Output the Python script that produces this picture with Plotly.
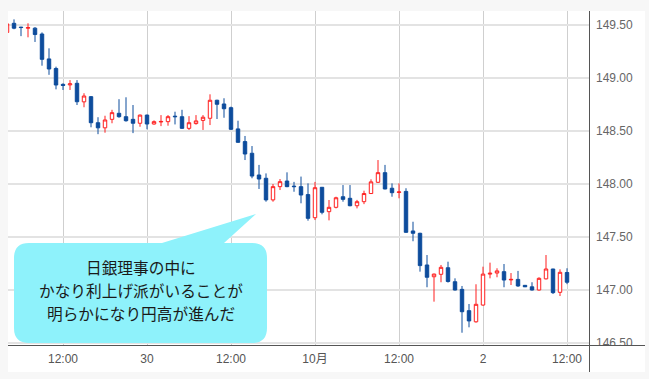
import plotly.graph_objects as go
import pandas as pd

# ---- data (hourly USD/JPY candles, 2025-09-29 04:00 .. 2025-10-02 12:00) ----
start_time = "2025-09-29 04:00"
n_candles = 81
open_ = [149.43, 149.516, 149.48, 149.47, 149.47, 149.415, 149.18, 149.09, 148.94, 148.935,
         148.95, 148.775, 148.824, 148.578, 148.53, 148.61, 148.667, 148.635, 148.61, 148.573,
         148.65, 148.566, 148.585, 148.588, 148.64, 148.635, 148.525, 148.57, 148.60, 148.62,
         148.79, 148.755, 148.72, 148.52, 148.40, 148.29, 148.085, 148.054, 147.85, 147.975,
         148.028, 147.98, 147.975, 147.90, 147.682, 147.969, 147.739, 147.78, 147.88, 147.865,
         147.795, 147.833, 147.91, 148.016, 148.107, 147.96, 147.92, 147.93, 147.557, 147.535,
         147.236, 147.125, 147.148, 147.21, 147.078, 147.006, 146.805, 146.70, 146.858, 147.15,
         147.16, 147.173, 147.095, 147.10, 147.044, 147.03, 147.0, 147.105, 147.198, 146.978,
         147.165]
high = [149.52, 149.553, 149.482, 149.516, 149.48, 149.43, 149.28, 149.107, 148.95, 148.98,
        148.98, 148.856, 148.83, 148.63, 148.644, 148.70, 148.80, 148.818, 148.745, 148.655,
        148.655, 148.60, 148.65, 148.65, 148.682, 148.70, 148.64, 148.65, 148.65, 148.846,
        148.795, 148.809, 148.73, 148.597, 148.453, 148.358, 148.18, 148.10, 148.0, 148.047,
        148.11, 148.02, 148.07, 148.006, 148.02, 147.97, 147.849, 147.88, 147.99, 147.99,
        147.85, 147.937, 148.044, 148.226, 148.18, 148.006, 148.006, 147.96, 147.644, 147.54,
        147.33, 147.155, 147.236, 147.267, 147.11, 147.038, 146.868, 147.054, 147.22, 147.258,
        147.205, 147.245, 147.16, 147.18, 147.046, 147.073, 147.12, 147.33, 147.2, 147.195,
        147.205]
low = [149.42, 149.46, 149.395, 149.384, 149.34, 149.116, 149.03, 148.893, 148.887, 148.887,
       148.745, 148.724, 148.535, 148.47, 148.484, 148.573, 148.625, 148.588, 148.48, 148.54,
       148.516, 148.56, 148.546, 148.55, 148.562, 148.52, 148.51, 148.56, 148.51, 148.556,
       148.613, 148.625, 148.51, 148.39, 148.226, 148.054, 147.953, 147.833, 147.833, 147.943,
       147.97, 147.927, 147.818, 147.654, 147.66, 147.714, 147.657, 147.77, 147.833, 147.79,
       147.77, 147.81, 147.906, 148.01, 147.95, 147.88, 147.865, 147.54, 147.46, 147.173,
       147.026, 146.89, 147.073, 147.07, 146.995, 146.597, 146.648, 146.692, 146.852, 147.11,
       147.12, 147.026, 147.047, 147.03, 147.028, 146.995, 146.995, 147.10, 146.962, 146.943,
       147.055]
close = [149.51, 149.47, 149.476, 149.475, 149.41, 149.176, 149.085, 148.934, 148.93, 148.945,
         148.776, 148.83, 148.578, 148.53, 148.604, 148.673, 148.635, 148.597, 148.573, 148.65,
         148.566, 148.588, 148.59, 148.635, 148.635, 148.525, 148.578, 148.595, 148.63, 148.79,
         148.752, 148.71, 148.516, 148.393, 148.283, 148.075, 148.047, 147.85, 147.975, 148.022,
         147.975, 147.975, 147.896, 147.676, 147.965, 147.733, 147.78, 147.87, 147.855, 147.795,
         147.833, 147.91, 148.02, 148.107, 147.953, 147.918, 147.925, 147.544, 147.535, 147.23,
         147.12, 147.15, 147.214, 147.08, 147.0, 146.795, 146.708, 146.865, 147.15, 147.158,
         147.18, 147.094, 147.10, 147.038, 147.03, 147.0, 147.11, 147.198, 146.975, 147.167,
         147.073]

x_tick_vals = ["2025-09-29 12:00", "2025-09-30 00:00", "2025-09-30 12:00", "2025-10-01 00:00",
               "2025-10-01 12:00", "2025-10-02 00:00", "2025-10-02 12:00"]
x_tick_text = ["12:00", "30", "12:00", "10月", "12:00", "2", "12:00"]
y_tick_vals = [146.5, 147.0, 147.5, 148.0, 148.5, 149.0, 149.5]
y_tick_text = ["146.50", "147.00", "147.50", "148.00", "148.50", "149.00", "149.50"]
callout_lines = ["日銀理事の中に", "かなり利上げ派がいることが", "明らかになり円高が進んだ"]

times = pd.date_range(start_time, periods=n_candles, freq="h")

# ---- geometry ----
W, H = 649, 379
L, R, T, B = 8, 589, 11, 346
BLUE = "#0d4c9c"
RED = "#ff1f1f"

def px(x):
    return (x - L) / (R - L)

def py(y):
    return (B - y) / (B - T)

fig = go.Figure()
fig.add_trace(go.Candlestick(
    x=times, open=open_, high=high, low=low, close=close,
    increasing=dict(line=dict(color=RED, width=1), fillcolor="white"),
    decreasing=dict(line=dict(color=BLUE, width=1), fillcolor=BLUE),
    whiskerwidth=0, showlegend=False, hoverinfo="skip",
))

# callout shape (rounded box with pointer)
x0, x1, y0, y1, r = 14, 267, 243, 343, 15
def P(x, y):
    return f"{px(x):.5f},{py(y):.5f}"
path = (f"M{P(x0 + r, y0)} L{P(162, y0)} L{P(256, 214)} L{P(224, y0)} L{P(x1 - r, y0)} "
        f"Q{P(x1, y0)} {P(x1, y0 + r)} L{P(x1, y1 - r)} Q{P(x1, y1)} {P(x1 - r, y1)} "
        f"L{P(x0 + r, y1)} Q{P(x0, y1)} {P(x0, y1 - r)} L{P(x0, y0 + r)} Q{P(x0, y0)} {P(x0 + r, y0)} Z")

shapes = [
    dict(type="rect", xref="paper", yref="paper", x0=px(8), x1=px(645), y0=py(372), y1=py(11),
         fillcolor="white", line=dict(width=0), layer="below"),
    dict(type="path", xref="paper", yref="paper", path=path,
         fillcolor="#8ef2fb", line=dict(width=0), layer="above"),
    dict(type="rect", xref="paper", yref="paper", x0=px(590), x1=px(645), y0=py(372), y1=py(346),
         fillcolor="white", line=dict(width=0), layer="above"),
    dict(type="line", xref="paper", yref="paper", x0=px(8), x1=px(645), y0=py(345.5), y1=py(345.5),
         line=dict(color="#555555", width=1), layer="above"),
    dict(type="line", xref="paper", yref="paper", x0=px(589.5), x1=px(589.5), y0=py(372), y1=py(11),
         line=dict(color="#555555", width=1), layer="above"),
]

annotations = []
for i, line in enumerate(callout_lines):
    annotations.append(dict(
        xref="paper", yref="paper", x=px(141), y=py(267 + 23 * i), text=line,
        showarrow=False, xanchor="center", yanchor="middle",
        font=dict(family="Noto Sans CJK JP", size=15.7, color="#1a1a1a"),
    ))

x_lo = pd.Timestamp("2025-09-29 12:00") + pd.Timedelta(hours=(L - 63) / 7)
x_hi = pd.Timestamp("2025-09-29 12:00") + pd.Timedelta(hours=(R - 63) / 7)
y_lo = 149.5 - (B - 25) / 106
y_hi = 149.5 - (T - 25) / 106

fig.update_layout(
    width=W, height=H,
    margin=dict(l=L, r=W - R, t=T, b=H - B),
    paper_bgcolor="#f7f7f7", plot_bgcolor="white",
    shapes=shapes, annotations=annotations,
    xaxis=dict(type="date", range=[x_lo, x_hi], rangeslider=dict(visible=False),
               tickvals=x_tick_vals, ticktext=x_tick_text, showgrid=True,
               gridcolor="#cfcfcf", gridwidth=1, zeroline=False, showline=False, ticks="",
               ticklabelstandoff=4,
               tickfont=dict(family="Liberation Sans, Arial, Noto Sans CJK JP", size=12, color="#555555"),
               fixedrange=True),
    yaxis=dict(side="right", range=[y_lo, y_hi], tickvals=y_tick_vals, ticktext=y_tick_text,
               showgrid=True, gridcolor="#e3e3e3", gridwidth=2, zeroline=False, showline=False,
               ticks="", ticklabelstandoff=6,
               tickfont=dict(family="Liberation Sans, Arial", size=12, color="#666666"),
               fixedrange=True),
    font=dict(family="Liberation Sans, Arial, Noto Sans CJK JP"),
)

fig.write_html("out.html", config={"displayModeBar": False},
               post_script="document.body.style.margin='0';document.body.style.background='#f7f7f7';")
